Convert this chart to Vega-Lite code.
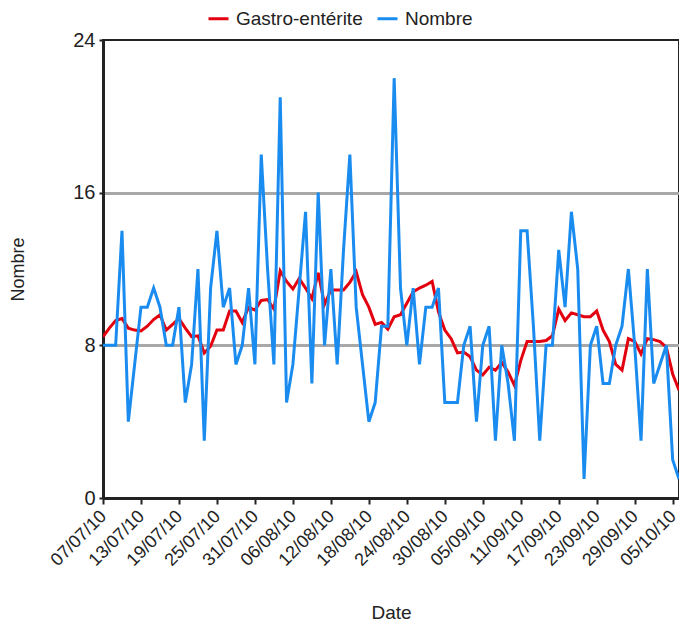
{
  "$schema": "https://vega.github.io/schema/vega-lite/v6.json",
  "autosize": {"type": "none"},
  "padding": {"left": 103, "top": 40, "right": 0, "bottom": 126},
  "width": 576,
  "height": 458,
  "background": "white",
  "config": {
    "font": "Liberation Sans",
    "view": {"stroke": "#222222", "strokeWidth": 2}
  },
  "data": {"values": [
    {"date": "2010-07-07T00:00", "Gastro-entérite": 8.45, "Nombre": 8},
    {"date": "2010-07-08T00:00", "Gastro-entérite": 8.9, "Nombre": 8},
    {"date": "2010-07-09T00:00", "Gastro-entérite": 9.3, "Nombre": 8},
    {"date": "2010-07-10T00:00", "Gastro-entérite": 9.4, "Nombre": 14},
    {"date": "2010-07-11T00:00", "Gastro-entérite": 8.9, "Nombre": 4},
    {"date": "2010-07-12T00:00", "Gastro-entérite": 8.8, "Nombre": 7},
    {"date": "2010-07-13T00:00", "Gastro-entérite": 8.75, "Nombre": 10},
    {"date": "2010-07-14T00:00", "Gastro-entérite": 9.0, "Nombre": 10},
    {"date": "2010-07-15T00:00", "Gastro-entérite": 9.35, "Nombre": 11},
    {"date": "2010-07-16T00:00", "Gastro-entérite": 9.6, "Nombre": 10},
    {"date": "2010-07-17T00:00", "Gastro-entérite": 8.8, "Nombre": 8},
    {"date": "2010-07-18T00:00", "Gastro-entérite": 9.1, "Nombre": 8},
    {"date": "2010-07-19T00:00", "Gastro-entérite": 9.4, "Nombre": 10},
    {"date": "2010-07-20T00:00", "Gastro-entérite": 8.9, "Nombre": 5},
    {"date": "2010-07-21T00:00", "Gastro-entérite": 8.45, "Nombre": 7},
    {"date": "2010-07-22T00:00", "Gastro-entérite": 8.5, "Nombre": 12},
    {"date": "2010-07-23T00:00", "Gastro-entérite": 7.6, "Nombre": 3},
    {"date": "2010-07-24T00:00", "Gastro-entérite": 7.95, "Nombre": 11},
    {"date": "2010-07-25T00:00", "Gastro-entérite": 8.8, "Nombre": 14},
    {"date": "2010-07-26T00:00", "Gastro-entérite": 8.8, "Nombre": 10},
    {"date": "2010-07-27T00:00", "Gastro-entérite": 9.8, "Nombre": 11},
    {"date": "2010-07-28T00:00", "Gastro-entérite": 9.8, "Nombre": 7},
    {"date": "2010-07-29T00:00", "Gastro-entérite": 9.2, "Nombre": 8},
    {"date": "2010-07-30T00:00", "Gastro-entérite": 10.0, "Nombre": 11},
    {"date": "2010-07-31T00:00", "Gastro-entérite": 9.85, "Nombre": 7},
    {"date": "2010-08-01T00:00", "Gastro-entérite": 10.35, "Nombre": 18},
    {"date": "2010-08-02T00:00", "Gastro-entérite": 10.4, "Nombre": 12},
    {"date": "2010-08-03T00:00", "Gastro-entérite": 9.9, "Nombre": 7},
    {"date": "2010-08-04T00:00", "Gastro-entérite": 11.9, "Nombre": 21},
    {"date": "2010-08-05T00:00", "Gastro-entérite": 11.35, "Nombre": 5},
    {"date": "2010-08-06T00:00", "Gastro-entérite": 10.95, "Nombre": 7},
    {"date": "2010-08-07T00:00", "Gastro-entérite": 11.5, "Nombre": 11},
    {"date": "2010-08-08T00:00", "Gastro-entérite": 11.0, "Nombre": 15},
    {"date": "2010-08-09T00:00", "Gastro-entérite": 10.45, "Nombre": 6},
    {"date": "2010-08-10T00:00", "Gastro-entérite": 11.8, "Nombre": 16},
    {"date": "2010-08-11T00:00", "Gastro-entérite": 10.15, "Nombre": 8},
    {"date": "2010-08-12T00:00", "Gastro-entérite": 10.9, "Nombre": 12},
    {"date": "2010-08-13T00:00", "Gastro-entérite": 10.9, "Nombre": 7},
    {"date": "2010-08-14T00:00", "Gastro-entérite": 10.9, "Nombre": 13},
    {"date": "2010-08-15T00:00", "Gastro-entérite": 11.3, "Nombre": 18},
    {"date": "2010-08-16T00:00", "Gastro-entérite": 11.85, "Nombre": 10},
    {"date": "2010-08-17T00:00", "Gastro-entérite": 10.65, "Nombre": 7},
    {"date": "2010-08-18T00:00", "Gastro-entérite": 10.0, "Nombre": 4},
    {"date": "2010-08-19T00:00", "Gastro-entérite": 9.1, "Nombre": 5},
    {"date": "2010-08-20T00:00", "Gastro-entérite": 9.2, "Nombre": 9},
    {"date": "2010-08-21T00:00", "Gastro-entérite": 8.85, "Nombre": 9},
    {"date": "2010-08-22T00:00", "Gastro-entérite": 9.5, "Nombre": 22},
    {"date": "2010-08-23T00:00", "Gastro-entérite": 9.6, "Nombre": 11},
    {"date": "2010-08-24T00:00", "Gastro-entérite": 10.2, "Nombre": 8},
    {"date": "2010-08-25T00:00", "Gastro-entérite": 10.8, "Nombre": 11},
    {"date": "2010-08-26T00:00", "Gastro-entérite": 11.0, "Nombre": 7},
    {"date": "2010-08-27T00:00", "Gastro-entérite": 11.15, "Nombre": 10},
    {"date": "2010-08-28T00:00", "Gastro-entérite": 11.35, "Nombre": 10},
    {"date": "2010-08-29T00:00", "Gastro-entérite": 9.75, "Nombre": 11},
    {"date": "2010-08-30T00:00", "Gastro-entérite": 8.8, "Nombre": 5},
    {"date": "2010-08-31T00:00", "Gastro-entérite": 8.35, "Nombre": 5},
    {"date": "2010-09-01T00:00", "Gastro-entérite": 7.6, "Nombre": 5},
    {"date": "2010-09-02T00:00", "Gastro-entérite": 7.65, "Nombre": 8},
    {"date": "2010-09-03T00:00", "Gastro-entérite": 7.4, "Nombre": 9},
    {"date": "2010-09-04T00:00", "Gastro-entérite": 6.7, "Nombre": 4},
    {"date": "2010-09-05T00:00", "Gastro-entérite": 6.45, "Nombre": 8},
    {"date": "2010-09-06T00:00", "Gastro-entérite": 6.85, "Nombre": 9},
    {"date": "2010-09-07T00:00", "Gastro-entérite": 6.7, "Nombre": 3},
    {"date": "2010-09-08T00:00", "Gastro-entérite": 7.1, "Nombre": 8},
    {"date": "2010-09-09T00:00", "Gastro-entérite": 6.6, "Nombre": 6},
    {"date": "2010-09-10T00:00", "Gastro-entérite": 5.9, "Nombre": 3},
    {"date": "2010-09-11T00:00", "Gastro-entérite": 7.2, "Nombre": 14},
    {"date": "2010-09-12T00:00", "Gastro-entérite": 8.2, "Nombre": 14},
    {"date": "2010-09-13T00:00", "Gastro-entérite": 8.2, "Nombre": 9},
    {"date": "2010-09-14T00:00", "Gastro-entérite": 8.2, "Nombre": 3},
    {"date": "2010-09-15T00:00", "Gastro-entérite": 8.25, "Nombre": 8},
    {"date": "2010-09-16T00:00", "Gastro-entérite": 8.5, "Nombre": 8},
    {"date": "2010-09-17T00:00", "Gastro-entérite": 9.9, "Nombre": 13},
    {"date": "2010-09-18T00:00", "Gastro-entérite": 9.3, "Nombre": 10},
    {"date": "2010-09-19T00:00", "Gastro-entérite": 9.7, "Nombre": 15},
    {"date": "2010-09-20T00:00", "Gastro-entérite": 9.6, "Nombre": 12},
    {"date": "2010-09-21T00:00", "Gastro-entérite": 9.5, "Nombre": 1},
    {"date": "2010-09-22T00:00", "Gastro-entérite": 9.5, "Nombre": 8},
    {"date": "2010-09-23T00:00", "Gastro-entérite": 9.8, "Nombre": 9},
    {"date": "2010-09-24T00:00", "Gastro-entérite": 8.8, "Nombre": 6},
    {"date": "2010-09-25T00:00", "Gastro-entérite": 8.2, "Nombre": 6},
    {"date": "2010-09-26T00:00", "Gastro-entérite": 7.0, "Nombre": 8},
    {"date": "2010-09-27T00:00", "Gastro-entérite": 6.7, "Nombre": 9},
    {"date": "2010-09-28T00:00", "Gastro-entérite": 8.35, "Nombre": 12},
    {"date": "2010-09-29T00:00", "Gastro-entérite": 8.2, "Nombre": 8},
    {"date": "2010-09-30T00:00", "Gastro-entérite": 7.55, "Nombre": 3},
    {"date": "2010-10-01T00:00", "Gastro-entérite": 8.35, "Nombre": 12},
    {"date": "2010-10-02T00:00", "Gastro-entérite": 8.3, "Nombre": 6},
    {"date": "2010-10-03T00:00", "Gastro-entérite": 8.2, "Nombre": 7},
    {"date": "2010-10-04T00:00", "Gastro-entérite": 7.9, "Nombre": 8},
    {"date": "2010-10-05T00:00", "Gastro-entérite": 6.5, "Nombre": 2},
    {"date": "2010-10-06T00:00", "Gastro-entérite": 5.65, "Nombre": 1}
  ]},
  "transform": [
    {"fold": ["Gastro-entérite", "Nombre"], "as": ["serie", "valeur"]}
  ],
  "mark": {"type": "line", "strokeWidth": 3, "clip": true},
  "encoding": {
    "x": {
      "field": "date",
      "type": "temporal",
      "title": "Date",
      "scale": {"domain": ["2010-07-07T00:00", "2010-10-06T00:00"]},
      "axis": {
        "values": ["2010-07-07T00:00", "2010-07-13T00:00", "2010-07-19T00:00", "2010-07-25T00:00", "2010-07-31T00:00", "2010-08-06T00:00", "2010-08-12T00:00", "2010-08-18T00:00", "2010-08-24T00:00", "2010-08-30T00:00", "2010-09-05T00:00", "2010-09-11T00:00", "2010-09-17T00:00", "2010-09-23T00:00", "2010-09-29T00:00", "2010-10-05T00:00"],
        "format": "%d/%m/%y",
        "labelAngle": -45,
        "labelAlign": "right",
        "labelBaseline": "top",
        "labelFontSize": 18,
        "labelColor": "#222222",
        "labelPadding": 3,
        "labelOffset": -6,
        "labelOverlap": false,
        "labelFlush": false,
        "labelBound": false,
        "grid": false,
        "domainColor": "#222222",
        "domainWidth": 3,
        "tickColor": "#222222",
        "tickWidth": 2,
        "tickSize": 6,
        "titleFontSize": 19,
        "titleFontWeight": "normal",
        "titleColor": "#222222",
        "titleY": 114,
        "titleBaseline": "middle"
      }
    },
    "y": {
      "field": "valeur",
      "type": "quantitative",
      "title": "Nombre",
      "scale": {"domain": [0, 24], "nice": false},
      "axis": {
        "values": [0, 8, 16, 24],
        "labelFontSize": 20,
        "labelColor": "#222222",
        "labelPadding": 4,
        "grid": true,
        "gridColor": {"condition": {"test": "datum.value == 8 || datum.value == 16", "value": "#a8a8a8"}, "value": "transparent"},
        "gridWidth": 3,
        "domainColor": "#222222",
        "domainWidth": 3,
        "tickColor": "#222222",
        "tickWidth": 2,
        "tickSize": 4,
        "titleFontSize": 18,
        "titleFontWeight": "normal",
        "titleColor": "#222222",
        "titleX": -85,
        "titleY": 229,
        "titleAngle": -90,
        "titleAlign": "center",
        "titleBaseline": "middle"
      }
    },
    "color": {
      "field": "serie",
      "type": "nominal",
      "scale": {"domain": ["Gastro-entérite", "Nombre"], "range": ["#e3000f", "#1a8cf0"]},
      "legend": {
        "title": null,
        "orient": "none",
        "direction": "horizontal",
        "legendX": 104,
        "legendY": -33,
        "symbolType": "stroke",
        "symbolStrokeWidth": 3,
        "symbolSize": 400,
        "labelFontSize": 19,
        "labelColor": "#222222",
        "columnPadding": 8,
        "labelOffset": 6
      }
    }
  }
}
